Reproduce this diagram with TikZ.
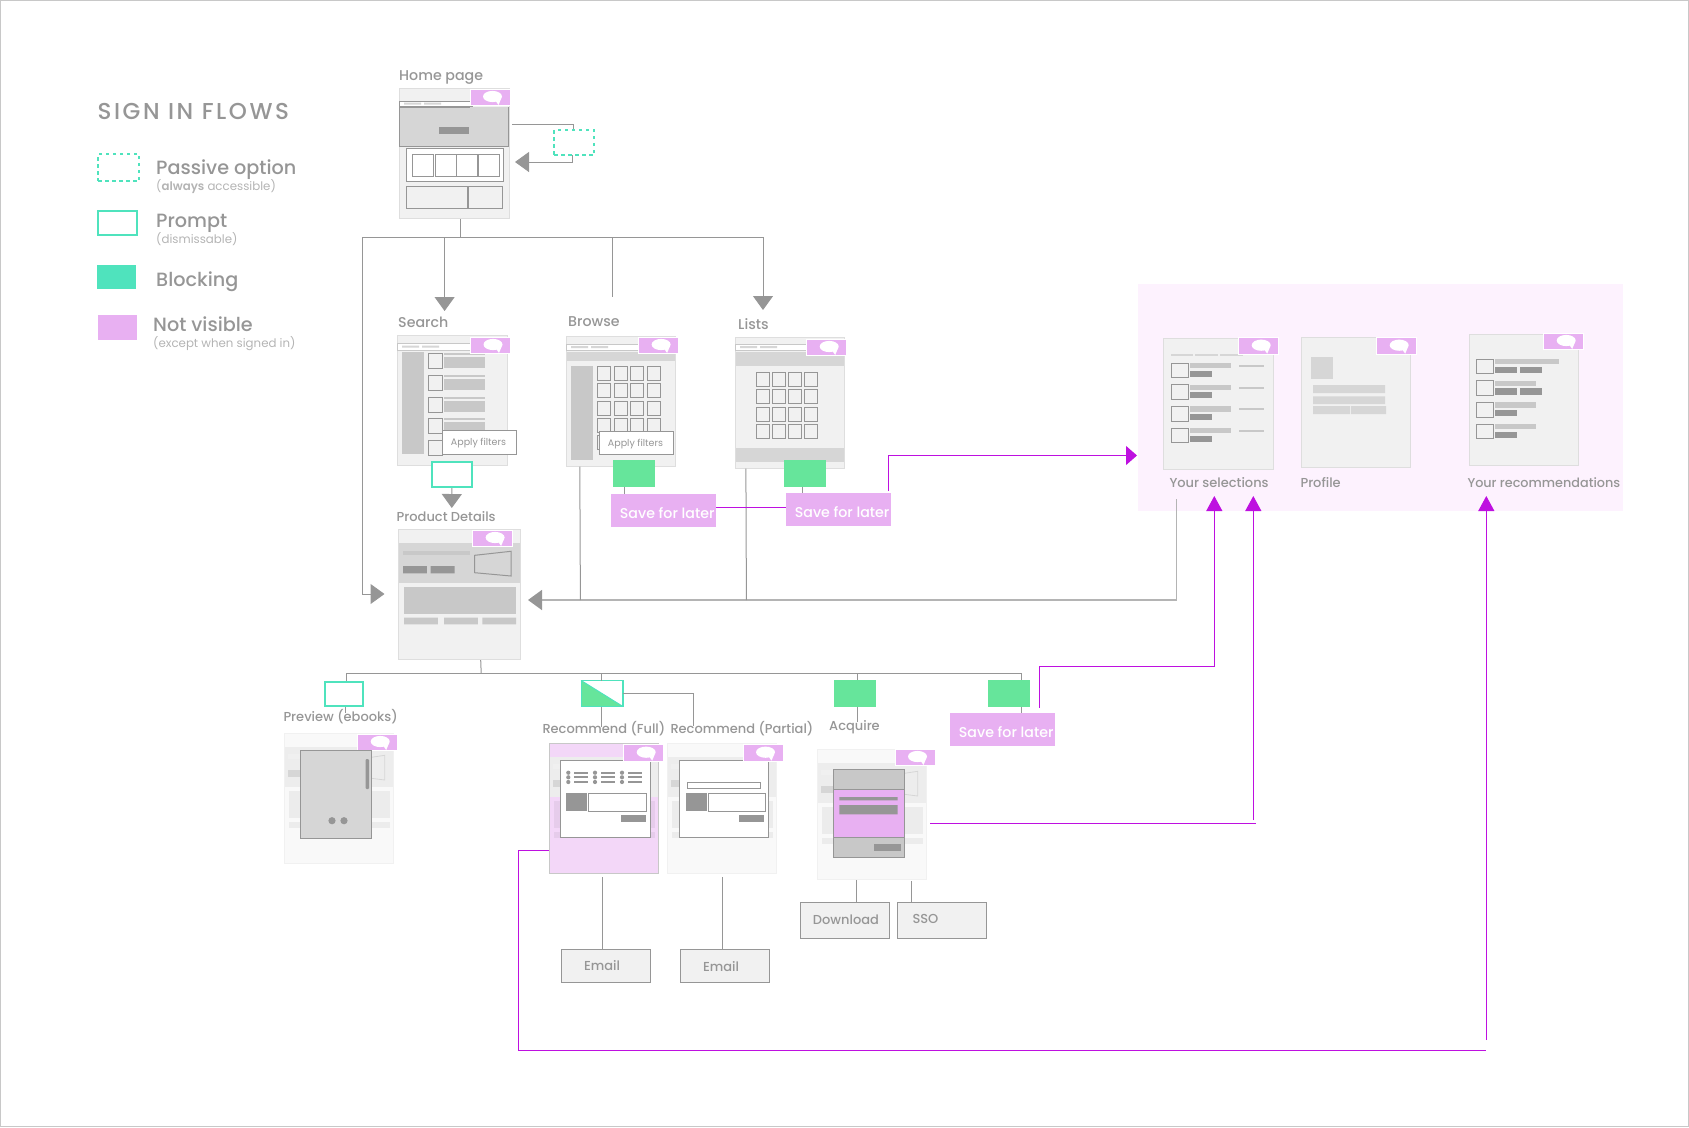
\documentclass[tikz,border=0pt]{standalone}
\usepackage{fontspec}
\setmainfont{Poppins Medium}[BoldFont={Poppins SemiBold}]
\newfontfamily\notefont{Poppins}[BoldFont={Poppins SemiBold}]
\newfontfamily\titlefont{Poppins Medium}[LetterSpace=11]
\usepackage{xcolor}
\usetikzlibrary{arrows.meta, positioning, fit, calc}
\definecolor{kgray}{HTML}{969696}
\definecolor{ksoft}{HTML}{B4B4B4}
\definecolor{kpale}{HTML}{F1F1F1}
\definecolor{kedge}{HTML}{DEDEDE}
\definecolor{klight}{HTML}{D6D6D6}
\definecolor{kmid}{HTML}{C8C8C8}
\definecolor{kteal}{HTML}{4FE3BD}
\definecolor{kgreen}{HTML}{66E59B}
\definecolor{kpurple}{HTML}{E8B0F2}
\definecolor{kmagenta}{HTML}{BE10E0}
\definecolor{kpanel}{HTML}{FDF2FE}
\definecolor{kfade}{HTML}{F9F9F9}
\tikzset{
  pagelabel/.style={font=\fontsize{13}{16}\selectfont, text=kgray, anchor=base west, inner sep=0pt},
  toplabel/.style={font=\fontsize{14.2}{16}\selectfont, text=kgray, anchor=base west, inner sep=0pt},
  legendlabel/.style={font=\fontsize{19.2}{22}\selectfont, text=kgray, anchor=base west, inner sep=0pt},
  legendnote/.style={font=\notefont\fontsize{11.8}{13}\selectfont, text=ksoft, anchor=base west, inner sep=0pt},
  savelabel/.style={font=\fontsize{14.2}{16}\selectfont, text=white, anchor=base west, inner sep=0pt},
  filterlabel/.style={font=\notefont\fontsize{9.5}{12}\selectfont, text=kgray, inner sep=0pt},
  screen/.style={fill=kpale, draw=kedge, line width=1pt, inner sep=0pt},
  fadescreen/.style={fill=kfade, draw=kpale, line width=1pt, inner sep=0pt},
  passive/.style={draw=kteal, line width=2pt, dash pattern=on 3.5pt off 3.5pt, inner sep=0pt},
  prompt/.style={draw=kteal, fill=white, line width=2pt, inner sep=0pt},
  blocking/.style={fill=kgreen, inner sep=0pt},
  hidden/.style={fill=kpurple, inner sep=0pt},
  plainbox/.style={fill=kpale, draw=kgray, line width=1pt, inner sep=0pt},
  filterbox/.style={fill=white, draw=kgray, line width=1pt, inner sep=0pt},
  outlined/.style={draw=kgray, line width=1pt},
  wire/.style={draw=kgray, line width=1pt},
  wirepale/.style={draw=ksoft, line width=1.6pt},
  signin/.style={draw=kmagenta, line width=1pt},
  grayarrow/.style={-{Triangle[length=14pt,width=20pt,color=kgray]}},
  upsign/.style={-{Triangle[length=15pt,width=16pt,color=kmagenta]}},
  sidesign/.style={-{Triangle[length=11pt,width=19pt,color=kmagenta]}},
}
% box as a node between two corners
\newcommand{\cornerbox}[6]{\node[#2, fit={(#3,#4) (#5,#6)}] (#1) {};}
% purple tag with the speech bubble, 40 x 16.5, from its top left corner
\newcommand{\speechtag}[3]{%
  \node[hidden, draw=white, line width=0.8pt, fit={(#2,#3) ({#2+40},{#3+16.5})}] (#1) {};
  \fill[white] ({#2+22.5},{#3+7.5}) ellipse [x radius=9.5pt, y radius=5.6pt];
  \fill[white] ({#2+25},{#3+11}) -- ({#2+31},{#3+10}) -- ({#2+28.5},{#3+16}) -- cycle;
}
% faded product page behind the dialogs
\newcommand{\fadedpage}[2]{%
  \begin{scope}[shift={(#1,#2)}]
    \fill[black!7] (0.5,14) rectangle (109,53.7);
    \fill[black!6] (4,21) rectangle (30,25.7);
    \fill[klight] (4,37) rectangle (30,44);
    \draw[klight, line width=0.8pt, fill=black!7] (87,24) -- (100.4,22) -- (100.4,46.7) -- (87,45) -- cycle;
    \fill[black, opacity=0.05] (5,58) rectangle (105.4,84.7);
    \fill[black, opacity=0.05] (5,88.4) rectangle (105.4,95);
  \end{scope}
}
\begin{document}
\begin{tikzpicture}[x=1pt, y=-1pt]
  \useasboundingbox (0,0) rectangle (1689,1127);
  \draw[kmid, line width=1pt] (0.5,0.5) rectangle (1688.5,1126.5);

  %% Legend
  \node[font=\titlefont\fontsize{23}{26}\selectfont, text=kgray, anchor=base west, inner sep=0pt] (flowstitle) at (97.5,119) {SIGN IN FLOWS};
  \cornerbox{legendpassive}{passive}{98}{154}{139}{181}
  \node[legendlabel] (passivetext) at (156,174) {Passive option};
  \node[legendnote] (passivenote) at (156,190) {(\textbf{always} accessible)};
  \cornerbox{legendprompt}{prompt}{98}{211}{137}{235}
  \node[legendlabel] (prompttext) at (156,227) {Prompt};
  \node[legendnote] (promptnote) at (156,243) {(dismissable)};
  \cornerbox{legendblocking}{fill=kteal, inner sep=0pt}{97}{265}{136}{289}
  \node[legendlabel] (blockingtext) at (156,286) {Blocking};
  \cornerbox{legendhidden}{hidden}{98}{315}{137}{340}
  \node[legendlabel] (hiddentext) at (153,331) {Not visible};
  \node[legendnote] (hiddennote) at (153,347) {(except when signed in)};

  %% Pink panel
  \fill[kpanel] (1138,284) rectangle (1622.7,511);

  %% Connectors
  \coordinate (homeout) at (512,124);
  \coordinate (passivetop) at (573,130);
  \coordinate (passivebot) at (572,155);
  \coordinate (homeback) at (515,162);
  \coordinate (hub) at (460.7,237);
  \coordinate (hubleft) at (362.5,237);
  \coordinate (hubright) at (763,237);
  \coordinate (searchtip) at (444.6,311);
  \coordinate (browsestop) at (612,297);
  \coordinate (liststip) at (763,310);
  \coordinate (detailsleft) at (384.5,594);
  \coordinate (detailstip) at (451.8,508);
  \coordinate (detailsright) at (528,600);
  \coordinate (selout) at (1176.3,499);
  \coordinate (browsedrop) at (580.4,600);
  \coordinate (listsdrop) at (746.4,600);
  \coordinate (actionbar) at (481.2,673.3);
  \coordinate (barleft) at (346.3,673.3);
  \coordinate (barright) at (1021.5,673.3);

  \draw[wire] (homeout) -| (passivetop);
  \draw[wire, grayarrow] (passivebot) |- (homeback);
  \draw[wire] (hubleft) -- (hubright);
  \draw[wire, grayarrow] (searchtip |- hub) -- (searchtip);
  \draw[wire] (browsestop |- hub) -- (browsestop);
  \draw[wire, grayarrow] (hubright) -- (liststip);
  \draw[wire, grayarrow] (hubleft) |- (detailsleft);
  \draw[wirepale, grayarrow] (selout) |- (detailsright);
  \draw[wire] (barleft) -- (barright);

  %% Home page
  \node[toplabel] (homelabel) at (399,80) {Home page};
  \cornerbox{home}{screen}{399}{88}{509}{218.5}
  \draw[wire] (home.south -| hub) -- (hub);
  \fill[white] (399,101) rectangle (472,106);
  \draw[outlined] (399,101) rectangle (472,106);
  \fill[klight] (404,102.5) rectangle (421,104.5) (424,102.5) rectangle (441,104.5);
  \fill[klight] (399.5,107) rectangle (508.5,146);
  \draw[outlined] (399.5,107) -- (399.5,146) -- (508.5,146) -- (508.5,107);
  \draw[kgray, line width=2pt] (399.5,106.5) -- (470,106.5);
  \fill[kgray] (439,127) rectangle (469,134);
  \draw[outlined, fill=white] (406,148) rectangle (503,181);
  \foreach \xa/\xb in {412/433, 435/456, 456/477, 478/499} {
    \draw[outlined] (\xa,154) rectangle (\xb,176);
  }
  \draw[outlined] (406,186) rectangle (467,208);
  \draw[outlined] (468,186) rectangle (502,208);
  \speechtag{hometag}{470}{89}
  \cornerbox{homepassive}{passive}{554}{130}{594}{155}

  %% Search
  \node[toplabel] (searchlabel) at (398,327.5) {Search};
  \cornerbox{search}{screen}{397}{335}{507}{465.5}
  \fill[white] (397,343) rectangle (470,350);
  \draw[outlined, draw=kmid] (397,343) rectangle (470,350);
  \fill[klight] (402,345.5) rectangle (419,347.5) (422,345.5) rectangle (439,347.5);
  \fill[kmid] (402.4,352) rectangle (424,454);
  \foreach \ytop in {353, 375, 397, 418, 440} {
    \draw[outlined] (428,\ytop) rectangle (442.7,{\ytop+15});
  }
  \foreach \ytop in {353, 375, 397, 418} {
    \fill[kmid] (444.4,\ytop) rectangle (485,{\ytop+2});
    \fill[kmid] (444.4,{\ytop+4}) rectangle (485,{\ytop+15});
  }
  \cornerbox{searchfilter}{filterbox}{442.7}{430}{516.7}{454}
  \node[filterlabel] (searchfiltertext) at (478.5,443.5) {Apply filters};
  \speechtag{searchtag}{470.5}{337}
  \cornerbox{searchprompt}{prompt}{431.7}{462}{472}{487}
  \draw[wire, grayarrow] (searchprompt.south) -- (detailstip);

  %% Browse
  \node[toplabel] (browselabel) at (568,326) {Browse};
  \cornerbox{browse}{screen}{566.3}{336}{675.5}{466}
  \fill[white] (566.3,344) rectangle (638,350);
  \draw[outlined, draw=kmid] (566.3,344) rectangle (638,350);
  \fill[klight] (571,346) rectangle (588,348) (591,346) rectangle (608,348);
  \fill[klight] (566.8,352) rectangle (675,361);
  \fill[kmid] (571,366) rectangle (593,460);
  \foreach \ytop in {366, 383, 401, 418} {
    \foreach \xleft in {597.3, 614, 630.3, 647} {
      \draw[outlined] (\xleft,\ytop) rectangle ({\xleft+13.5},{\ytop+14});
    }
  }
  \draw[outlined] (597.3,435) rectangle (610.7,449);
  \cornerbox{browsefilter}{filterbox}{599.4}{431.7}{673.7}{454.7}
  \node[filterlabel] (browsefiltertext) at (635.5,444.5) {Apply filters};
  \speechtag{browsetag}{638.6}{337}
  \cornerbox{browsegreen}{blocking}{613}{460}{655}{487}
  \cornerbox{browsesave}{hidden}{611}{494}{716}{527}
  \node[savelabel] (browsesavetext) at (619.7,518) {Save for later};
  \draw[wire] ([xshift=12pt]browsegreen.south west) -- ([xshift=14pt]browsesave.north west);
  \draw[wire] ([xshift=14pt]browse.south west) -- (browsedrop);

  %% Lists
  \node[toplabel] (listslabel) at (738,329.5) {Lists};
  \cornerbox{lists}{screen}{735.4}{337}{844.5}{468}
  \fill[white] (735.4,344) rectangle (806,350);
  \draw[outlined, draw=kmid] (735.4,344) rectangle (806,350);
  \fill[klight] (740,346) rectangle (757,348) (760,346) rectangle (777,348);
  \fill[klight] (735.9,352) rectangle (844,366);
  \fill[klight] (735.9,448) rectangle (844,462);
  \foreach \ytop in {372, 389, 407, 424} {
    \foreach \xleft in {756.4, 772.2, 788.4, 804.2} {
      \draw[outlined] (\xleft,\ytop) rectangle ({\xleft+13.5},{\ytop+14});
    }
  }
  \speechtag{liststag}{806.7}{339}
  \cornerbox{listsgreen}{blocking}{784}{460}{826}{487}
  \cornerbox{listssave}{hidden}{786}{493}{891}{526}
  \node[savelabel] (listssavetext) at (794.6,517) {Save for later};
  \draw[wire] ([xshift=19pt]listsgreen.south west) -- ([xshift=17pt]listssave.north west);
  \draw[wire] ([xshift=11pt]lists.south west) -- (listsdrop);

  %% Product details
  \node[pagelabel] (detailslabel) at (396.5,521) {Product Details};
  \cornerbox{details}{screen}{398.3}{529.3}{520.5}{659.7}
  \fill[klight] (398.8,543) rectangle (520,582.7);
  \fill[kmid] (403,550.7) rectangle (470,555);
  \fill[kgray] (403,566) rectangle (426.8,573.3) (430.6,566) rectangle (454.7,573.3);
  \draw[outlined] (474.7,555.3) -- (511,551.3) -- (511,576) -- (474.7,572.7) -- cycle;
  \fill[kmid] (404,587.3) rectangle (516,614.3);
  \fill[kmid] (404,617.7) rectangle (437.9,624.3) (444,617.7) rectangle (477.8,624.3) (482.3,617.7) rectangle (516,624.3);
  \speechtag{detailstag}{472.6}{530}
  \draw[wire] ([xshift=82.9pt]details.south west) -- (actionbar);

  %% Preview
  \cornerbox{previewprompt}{prompt}{324.7}{682}{363.3}{706}
  \draw[wire] (barleft) -- (barleft |- previewprompt.north);
  \node[pagelabel] (previewlabel) at (283.3,721.2) {Preview (ebooks)};
  \draw[wire] ([xshift=21.6pt]previewprompt.south west) -- ++(0,6);
  \cornerbox{preview}{fadescreen}{284.3}{733.3}{393.7}{863.3}
  \fadedpage{284.3}{733.3}
  \speechtag{previewtag}{357.7}{734}
  \draw[outlined, fill=klight] (300.3,750.3) rectangle (371.7,838.3);
  \fill[kgray, rounded corners=1pt] (365.7,759) rectangle (369,789);
  \fill[kgray] (332,820.7) circle [radius=3.6pt] (344,820.7) circle [radius=3.6pt];

  %% Recommend
  \node[pagelabel] (fulllabel) at (542.3,733) {Recommend (Full)};
  \node[pagelabel] (partiallabel) at (670.3,733) {Recommend (Partial)};
  \cornerbox{splitgate}{fill=white, inner sep=0pt}{581.3}{680.7}{622.7}{706.3}
  \fill[kgreen] (splitgate.north west) -- (splitgate.south east) -- (splitgate.south west) -- cycle;
  \draw[kteal, line width=1.2pt] (splitgate.north west) rectangle (splitgate.south east);
  \draw[kteal, line width=1pt] (splitgate.north west) -- (splitgate.south east);
  \coordinate (fullstop) at (601.3,727);
  \coordinate (partialstop) at (693.7,726);
  \draw[wire] (fullstop |- barleft) -- (fullstop |- splitgate.north);
  \draw[wire] (fullstop |- splitgate.south) -- (fullstop);
  \draw[wire] (splitgate.east) -| (partialstop);

  \cornerbox{full}{fill=kpurple!50, draw=kmid, line width=1pt, inner sep=0pt}{549.3}{743.3}{658.7}{873.7}
  \fadedpage{549.3}{743.3}
  \draw[outlined, fill=white] (560.3,760.7) rectangle (650,837.3);
  \foreach \xdot/\xa/\xb in {568.3/574/588.3, 595/601.3/615, 622/628/642} {
    \foreach \yrow in {772.7, 777.3, 782} {
      \fill[kgray] (\xdot,\yrow) circle [radius=2.1pt];
      \fill[kgray] (\xa,{\yrow-1}) rectangle (\xb,{\yrow+1});
    }
  }
  \fill[kgray] (566,793) rectangle (587,811);
  \draw[outlined] (588.3,793) rectangle (646,811);
  \fill[kgray] (621,815) rectangle (646,822);
  \speechtag{fulltag}{623.7}{744.7}

  \cornerbox{partial}{fadescreen}{667.3}{743.3}{776.7}{873.7}
  \fadedpage{667.3}{743.3}
  \draw[outlined, fill=white] (679.3,760.7) rectangle (768.7,837.3);
  \draw[outlined] (687.3,782.3) rectangle (760.7,788.7);
  \fill[kgray] (686,793) rectangle (707,811);
  \draw[outlined] (708.3,793) rectangle (765.7,811);
  \fill[kgray] (739,815) rectangle (764,822);
  \speechtag{partialtag}{743}{744.7}

  \cornerbox{fullmail}{plainbox}{561.3}{949.3}{650.7}{982.3}
  \node[pagelabel, anchor=base] (fullmailtext) at (602,970.5) {Email};
  \cornerbox{partialmail}{plainbox}{680.3}{949.3}{769.7}{982.3}
  \node[pagelabel, anchor=base] (partialmailtext) at (721,971.5) {Email};
  \coordinate (fullmaildrop) at (602.3,877.3);
  \coordinate (partialmaildrop) at (722.3,877.3);
  \draw[wire] (fullmaildrop) -- (fullmaildrop |- fullmail.north);
  \draw[wire] (partialmaildrop) -- (partialmaildrop |- partialmail.north);

  %% Acquire
  \cornerbox{acquiregreen}{blocking}{834}{680}{876}{706.7}
  \node[pagelabel] (acquirelabel) at (829,730.7) {Acquire};
  \coordinate (acquirestop) at (857.3,722);
  \draw[wire] (acquirestop |- barleft) -- (acquirestop |- acquiregreen.north);
  \draw[wire] (acquirestop |- acquiregreen.south) -- (acquirestop);
  \cornerbox{acquire}{fadescreen}{817.3}{749.3}{926.7}{879.7}
  \fadedpage{817.3}{749.3}
  \speechtag{acquiretag}{895}{749}
  \fill[kmid] (833.3,769.3) rectangle (904.7,857.7);
  \fill[kpurple] (833.3,789.3) rectangle (904.7,837.7);
  \draw[outlined] (833.3,769.3) rectangle (904.7,857.7);
  \draw[kgray, line width=1.4pt] (833.3,789.3) -- (904.7,789.3) (833.3,837.7) -- (904.7,837.7);
  \fill[kgray] (839.3,797) rectangle (897.7,800.3) (839.3,805) rectangle (897.7,814.3);
  \fill[kgray] (874,844) rectangle (900.7,851.3);
  \cornerbox{download}{plainbox}{800.3}{902.3}{889.7}{938.3}
  \node[pagelabel] (downloadtext) at (812.7,924.5) {Download};
  \cornerbox{sso}{plainbox}{897.3}{902.3}{986.7}{938.3}
  \node[pagelabel] (ssotext) at (912.3,923.5) {SSO};
  \coordinate (downloaddrop) at (856.3,880);
  \coordinate (ssodrop) at (911.3,881);
  \draw[wire] (downloaddrop) -- (downloaddrop |- download.north);
  \draw[wire] (ssodrop) -- (ssodrop |- sso.north);

  %% Save from product details
  \cornerbox{detailsgreen}{blocking}{988}{680}{1030}{706.7}
  \cornerbox{detailssave}{hidden}{950}{713}{1055}{746}
  \node[savelabel] (detailssavetext) at (958.7,737.3) {Save for later};
  \draw[wire] (barright) -- (barright |- detailsgreen.north);
  \draw[wire] (barright |- detailsgreen.south) -- (barright |- detailssave.north);

  %% Signed in pages
  \cornerbox{selections}{screen}{1163.7}{338}{1273.7}{469}
  \foreach \xa/\xb in {1170.7/1193, 1195.3/1218, 1220/1242.7} {
    \fill[klight] (\xa,354.3) rectangle (\xb,356.3);
  }
  \foreach \ytop in {363, 384.7, 406.3, 428} {
    \draw[outlined] (1171,\ytop) rectangle (1188,{\ytop+14.7});
    \fill[kmid] (1189.7,\ytop) rectangle (1230.7,{\ytop+5.3});
    \fill[kgray] (1190,{\ytop+7.7}) rectangle (1211.7,{\ytop+13.7});
    \fill[kmid] (1239.3,{\ytop+2}) rectangle (1264,{\ytop+4});
  }
  \speechtag{selectionstag}{1238.7}{337.7}
  \node[pagelabel] (selectionslabel) at (1169.3,487.3) {Your selections};

  \cornerbox{profile}{screen}{1301.3}{337}{1410.7}{467.7}
  \fill[klight] (1311,357) rectangle (1333,379);
  \fill[klight] (1313,385) rectangle (1385,393) (1313,396.3) rectangle (1385,404);
  \fill[klight] (1313,406) rectangle (1350,414) (1351,406) rectangle (1386,414);
  \speechtag{profiletag}{1376.7}{337.7}
  \node[pagelabel] (profilelabel) at (1300.3,487.3) {Profile};

  \cornerbox{recommendations}{screen}{1469}{334.3}{1578.7}{465}
  \foreach \ytop/\xend in {359/1559.3, 380.7/1535.7, 402.3/1535.7, 424/1535.7} {
    \draw[outlined] (1476,\ytop) rectangle (1493,{\ytop+14.7});
    \fill[kmid] (1494.7,\ytop) rectangle (\xend,{\ytop+5.3});
    \fill[kgray] (1495,{\ytop+7.7}) rectangle (1516.7,{\ytop+14});
  }
  \foreach \ytop in {359, 380.7} {
    \fill[kgray] (1520,{\ytop+7.7}) rectangle (1541.7,{\ytop+14});
  }
  \speechtag{recommendationstag}{1543.7}{333}
  \node[pagelabel, font=\fontsize{12.8}{16}\selectfont] (recommendationslabel) at (1467.3,487.3) {Your recommendations};

  %% Sign in links
  \coordinate (savelink) at (750,507);
  \coordinate (listsout) at (888,491);
  \coordinate (selin) at (1137,455.5);
  \coordinate (savebend) at (1214.3,666);
  \coordinate (seltipa) at (1214.3,496);
  \coordinate (saveout) at (1039.3,707.7);
  \coordinate (acquireout) at (930,823.3);
  \coordinate (acquirecorner) at (1255.7,823.3);
  \coordinate (seltipb) at (1253.3,496);
  \coordinate (seltipbstart) at (1253.3,820);
  \coordinate (fullbend) at (518.7,850);
  \coordinate (fullbottom) at (518.7,1050);
  \coordinate (rectip) at (1486.3,496);
  \coordinate (recstart) at (1486.3,1040);
  \draw[signin] (browsesave.east |- savelink) -- (listssave.west |- savelink);
  \draw[signin, sidesign] (listsout) |- (selin);
  \draw[signin, upsign] (saveout) |- (savebend) -- (seltipa);
  \draw[signin] (acquireout) -- (acquirecorner);
  \draw[signin, upsign] (seltipbstart) -- (seltipb);
  \draw[signin] (full.west |- fullbend) -- (fullbend) -- (fullbottom) -- (fullbottom -| rectip);
  \draw[signin, upsign] (recstart) -- (rectip);

\end{tikzpicture}
\end{document}
